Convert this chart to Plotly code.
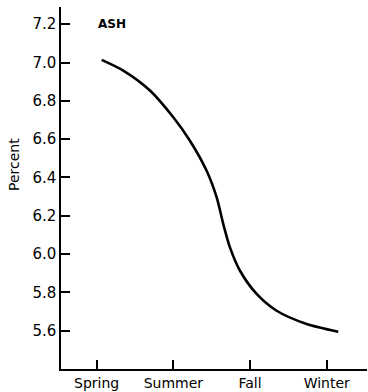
import plotly.graph_objects as go

season_labels = ["Spring", "Summer", "Fall", "Winter"]
season_pos = [1, 2, 3, 4]
y_ticks = [5.6, 5.8, 6.0, 6.2, 6.4, 6.6, 6.8, 7.0, 7.2]

curve_x = [1.065, 1.347, 1.695, 1.999, 2.216, 2.434, 2.565, 2.651, 2.738, 2.869, 3.086, 3.347, 3.738, 4.150]
curve_y = [7.014, 6.958, 6.854, 6.714, 6.592, 6.435, 6.296, 6.157, 6.035, 5.913, 5.792, 5.704, 5.635, 5.595]

font_family = "DejaVu Sans, Liberation Sans, sans-serif"

W, H = 368, 392
ML, MR, MT, MB = 61, 1, 7, 23
plot_w = W - ML - MR
plot_h = H - MT - MB

fig = go.Figure()
fig.add_trace(go.Scatter(
    x=curve_x, y=curve_y, mode="lines",
    line=dict(color="black", width=2.6, shape="spline", smoothing=0.8),
    showlegend=False, hoverinfo="skip",
))

fig.update_layout(
    width=W, height=H,
    margin=dict(l=ML, r=MR, t=MT, b=MB),
    paper_bgcolor="white", plot_bgcolor="white",
    font=dict(family=font_family, color="black", size=14),
    xaxis=dict(
        range=[0.535, 4.525], tickmode="array", tickvals=season_pos, ticktext=season_labels,
        ticks="inside", ticklen=9, tickwidth=1.5, tickcolor="black",
        showline=True, linecolor="black", linewidth=1.5, showgrid=False, zeroline=False,
        tickfont=dict(size=14, family=font_family),
    ),
    yaxis=dict(
        range=[5.4, 7.29], tickmode="array", tickvals=y_ticks,
        ticktext=[f"{v:.1f}" for v in y_ticks],
        ticks="inside", ticklen=9, tickwidth=1.5, tickcolor="black",
        showline=True, linecolor="black", linewidth=1.5, showgrid=False, zeroline=False,
        tickfont=dict(size=15, family=font_family),
    ),
    annotations=[
        dict(x=0.99, y=7.2, xref="x", yref="y", text="<b>ASH</b>", showarrow=False,
             xanchor="left", yanchor="middle", font=dict(size=12, family=font_family)),
        dict(x=(14 - ML) / plot_w, y=(H - MB - 165) / plot_h, xref="paper", yref="paper",
             text="Percent", showarrow=False, textangle=-90,
             xanchor="center", yanchor="middle", font=dict(size=14, family=font_family)),
    ],
)
fig.write_html("out.html", config={"displayModeBar": False},
               post_script="document.body.style.margin='0';document.body.style.overflow='hidden';")
